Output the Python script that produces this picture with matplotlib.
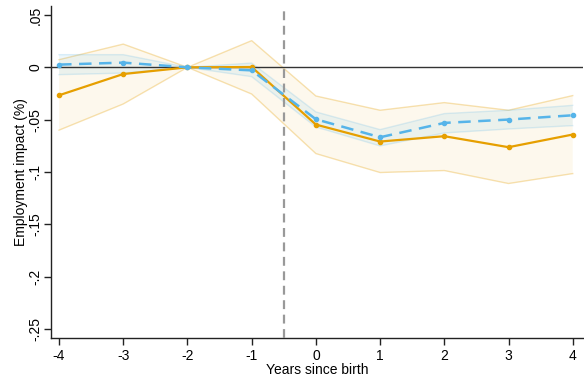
"""Employment impact event-study plot: two series with confidence bands."""

import matplotlib
matplotlib.use("Agg")
import matplotlib.pyplot as plt

plt.rcParams["font.family"] = ["Liberation Sans", "DejaVu Sans"]

# %% Data

years = [-4, -3, -2, -1, 0, 1, 2, 3, 4]

orange_est = [-0.0267, -0.0064, 0.0, 0.0003, -0.0547, -0.0709, -0.0658, -0.0763, -0.0642]
orange_lo = [-0.0600, -0.0350, 0.0, -0.0255, -0.0824, -0.1005, -0.0986, -0.1110, -0.1015]
orange_hi = [0.0073, 0.0222, 0.0, 0.0255, -0.0274, -0.0410, -0.0337, -0.0410, -0.0270]

blue_est = [0.0026, 0.0045, 0.0, -0.0029, -0.0496, -0.0668, -0.0531, -0.0499, -0.0458]
blue_lo = [-0.0070, -0.0055, 0.0, -0.0089, -0.0570, -0.0751, -0.0627, -0.0589, -0.0557]
blue_hi = [0.0121, 0.0121, 0.0, 0.0041, -0.0426, -0.0595, -0.0442, -0.0410, -0.0363]

yticks = [0.05, 0, -0.05, -0.1, -0.15, -0.2, -0.25]
ytick_labels = [".05", "0", "-.05", "-.1", "-.15", "-.2", "-.25"]

ORANGE = "#E69F00"
BLUE = "#56B4E9"
FS = 10

# %% Plot

fig = plt.figure(figsize=(5.84, 3.81), dpi=100)
ax = fig.add_axes([50.7 / 584, 1 - 338 / 381, (583 - 50.7) / 584, (338 - 6) / 381])

ax.fill_between(years, orange_lo, orange_hi, facecolor=ORANGE, alpha=0.07,
                edgecolor="none", zorder=1)
ax.plot(years, orange_lo, color=ORANGE, alpha=0.3, lw=1, zorder=1)
ax.plot(years, orange_hi, color=ORANGE, alpha=0.3, lw=1, zorder=1)

ax.fill_between(years, blue_lo, blue_hi, facecolor=BLUE, alpha=0.10,
                edgecolor="none", zorder=2)
ax.plot(years, blue_lo, color=BLUE, alpha=0.2, lw=1, zorder=2)
ax.plot(years, blue_hi, color=BLUE, alpha=0.2, lw=1, zorder=2)

ax.axhline(0, color="#333333", lw=1, zorder=3)
ax.axvline(-0.5, color="#999999", lw=1.6, ls=(0, (4, 2.5)), zorder=3)

ax.plot(years, orange_est, color=ORANGE, lw=1.6, marker="o", ms=3, zorder=4)
ax.plot(years, blue_est, color=BLUE, lw=1.8, ls=(0, (5, 3)), marker="o", ms=3, zorder=5)

ax.set_xlim(-4.13, 4.16)
ax.set_ylim(-0.2586, 0.0586)
ax.set_xticks(years)
ax.set_xticklabels([str(y) for y in years], fontsize=FS)
ax.set_yticks(yticks)
ax.set_yticklabels(ytick_labels, fontsize=FS, rotation=90, va="center")

for side in ("top", "right"):
    ax.spines[side].set_visible(False)
for side in ("left", "bottom"):
    ax.spines[side].set_color("#222222")
    ax.spines[side].set_linewidth(1)
ax.tick_params(direction="out", length=5, width=1, color="#222222", pad=3)
ax.tick_params(axis="y", pad=1)

ax.set_xlabel("Years since birth", fontsize=FS, labelpad=0)
ax.set_ylabel("Employment impact (%)", fontsize=FS, labelpad=0)

fig.savefig("out.png", dpi=100)
